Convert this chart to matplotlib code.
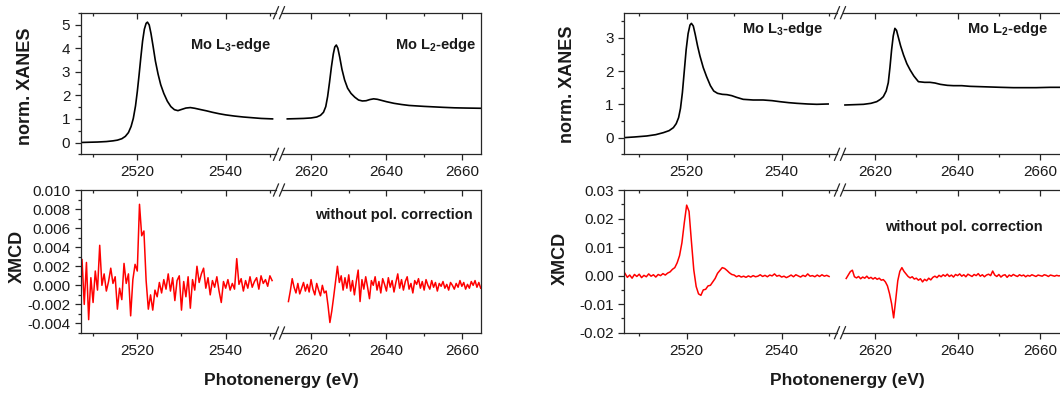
import numpy as np
import matplotlib
matplotlib.use('Agg')
import matplotlib.pyplot as plt
from matplotlib.ticker import MultipleLocator, FormatStrFormatter, NullFormatter
from matplotlib.lines import Line2D

plt.rcParams['font.family'] = ['Liberation Sans', 'DejaVu Sans']
plt.rcParams['mathtext.fontset'] = 'custom'
plt.rcParams['mathtext.rm'] = 'Liberation Sans:bold'
plt.rcParams['mathtext.bf'] = 'Liberation Sans:bold'
plt.rcParams['axes.unicode_minus'] = False

# ---------------- data ----------------
# left sample: XANES, L3 and L2 edge
a_l3_E = [2507.2, 2509.0, 2511.0, 2513.0, 2514.5, 2515.5, 2516.5, 2517.3, 2518.0, 2518.6,
          2519.1, 2519.6, 2520.0, 2520.4, 2520.8, 2521.2, 2521.6, 2522.0, 2522.3, 2522.7,
          2523.1, 2523.6, 2524.1, 2524.7, 2525.3, 2526.0, 2526.8, 2527.6, 2528.4, 2529.2,
          2530.0, 2531.0, 2532.0, 2533.0, 2534.2, 2535.7, 2537.0, 2538.5, 2540.0, 2542.0,
          2544.0, 2546.0, 2548.0, 2550.6]
a_l3_xanes = [0.00, 0.01, 0.02, 0.04, 0.07, 0.10, 0.16, 0.26, 0.42, 0.68,
              1.02, 1.55, 2.15, 2.85, 3.60, 4.30, 4.80, 5.05, 5.10, 4.98,
              4.62, 4.05, 3.45, 2.90, 2.45, 2.08, 1.75, 1.52, 1.39, 1.35,
              1.40, 1.46, 1.48, 1.45, 1.40, 1.34, 1.28, 1.22, 1.17, 1.12,
              1.08, 1.05, 1.02, 1.00]
a_l2_E = [2613.7, 2616.0, 2618.0, 2620.0, 2621.5, 2622.5, 2623.3, 2623.9, 2624.4, 2624.9,
          2625.4, 2625.9, 2626.3, 2626.7, 2627.1, 2627.6, 2628.2, 2628.9, 2629.7, 2630.6,
          2631.6, 2632.6, 2633.6, 2634.6, 2635.6, 2636.6, 2637.6, 2638.8, 2640.0, 2642.0,
          2644.0, 2646.0, 2648.0, 2650.0, 2652.5, 2655.0, 2658.0, 2661.0, 2665.0]
a_l2_xanes = [1.00, 1.01, 1.02, 1.04, 1.08, 1.15, 1.28, 1.52, 1.95, 2.55,
              3.20, 3.75, 4.05, 4.13, 4.00, 3.62, 3.10, 2.65, 2.30, 2.08,
              1.92, 1.80, 1.76, 1.77, 1.82, 1.85, 1.83, 1.78, 1.73, 1.66,
              1.61, 1.57, 1.55, 1.53, 1.51, 1.49, 1.47, 1.46, 1.45]

# left sample: XMCD in units of 1e-3, 0.5 eV steps
a_l3_xmcd_start = 2507.5
a_l3_xmcd = [2.7, -2.0, 2.4, -3.6, 0.8, -1.8, 1.5, -0.5, 4.2, 0.0,
             1.2, -0.6, 0.4, 1.8, 0.2, 0.9, -2.5, -0.3, -1.5, 2.3,
             0.2, 1.2, -3.2, 0.6, 2.2, 1.5, 8.5, 5.2, 5.7, 0.5,
             -2.5, -1.0, -2.6, -0.5, -1.2, 0.3, -0.8, 0.6, -0.4, 1.2,
             -0.6, 0.8, -1.6, 0.5, 1.0, -2.6, 0.4, -1.2, 0.9, -2.4,
             0.6, -0.5, 2.0, 0.3, 1.2, 1.8, -0.3, 0.8, -1.0, 0.5,
             -0.2, 0.9, -0.6, -1.8, 0.4, -0.3, 0.6, -0.5, 0.2, -0.4,
             2.8, 0.1, 0.7, -0.6, 0.5, -0.3, 0.9, -0.2, 0.4, 0.8,
             -0.4, 1.0, 0.2, 0.6, -0.1, 1.0, 0.5]
a_l2_xmcd_start = 2614.0
a_l2_xmcd = [-1.7, -0.6, 0.7, -0.2, -0.8, 0.2, -0.9, -0.3, 0.3, -0.6,
             0.1, -0.7, 0.6, -0.4, -1.0, 0.2, -0.5, -1.1, 0.0, -0.8,
             -0.6, -2.1, -3.9, -2.7, -1.2, 0.4, 2.0, 0.3, 1.0, -0.5,
             0.8, -0.3, 1.1, -0.6, 0.5, -1.0, 0.4, 1.6, -1.7, 0.6,
             -0.4, 0.9, -0.2, -1.4, 0.5, 0.0, 0.9, -0.5, 0.4, -0.8,
             0.7, 0.1, -0.6, 0.8, -0.2, 0.5, -0.7, 0.3, 1.2, -0.3,
             0.6, -0.5, 0.4, 0.9, -0.4, 0.2, -0.8, 0.5, 0.1, 0.7,
             -0.3, 0.4, -0.5, 0.6, 0.0, -0.4, 0.5, -0.2, 0.3, -0.6,
             0.2, -0.1, 0.4, -0.3, 0.1, -0.5, 0.3, 0.0, -0.4, 0.2,
             -0.2, 0.5, -0.1, 0.3, -0.4, 0.1, -0.3, 0.4, 0.0, 0.5,
             -0.2, 0.3, -0.3]

# right sample: XANES
b_l3_E = [2506.8, 2509.0, 2511.6, 2513.5, 2515.1, 2516.3, 2517.2, 2517.8, 2518.3, 2518.7,
          2519.1, 2519.5, 2519.9, 2520.3, 2520.7, 2521.0, 2521.4, 2521.8, 2522.3, 2522.8,
          2523.5, 2524.2, 2525.0, 2525.7, 2526.5, 2527.5, 2528.5, 2529.5, 2530.5, 2531.9,
          2534.0, 2536.1, 2538.0, 2539.6, 2541.5, 2543.2, 2545.5, 2547.4, 2549.8]
b_l3_xanes = [0.00, 0.02, 0.05, 0.09, 0.15, 0.21, 0.30, 0.42, 0.60, 0.88,
              1.35, 2.00, 2.65, 3.12, 3.38, 3.43, 3.35, 3.10, 2.75, 2.45,
              2.10, 1.83, 1.56, 1.40, 1.33, 1.30, 1.29, 1.26, 1.21, 1.15,
              1.13, 1.13, 1.11, 1.08, 1.05, 1.03, 1.01, 1.00, 1.01]
b_l2_E = [2612.7, 2615.0, 2617.2, 2619.0, 2620.4, 2621.3, 2622.0, 2622.7, 2623.2, 2623.6,
          2624.0, 2624.4, 2624.8, 2625.2, 2625.6, 2626.2, 2626.9, 2627.7, 2628.5, 2629.4,
          2630.5, 2632.0, 2633.3, 2634.5, 2635.8, 2637.5, 2639.0, 2641.0, 2643.0, 2645.5,
          2648.0, 2650.5, 2653.5, 2656.0, 2659.0, 2662.4, 2665.1]
b_l2_xanes = [0.98, 0.99, 1.00, 1.03, 1.08, 1.15, 1.23, 1.40, 1.65, 2.10,
              2.63, 3.05, 3.28, 3.22, 3.03, 2.75, 2.48, 2.22, 2.03, 1.85,
              1.68, 1.66, 1.66, 1.64, 1.60, 1.57, 1.56, 1.56, 1.54, 1.53,
              1.52, 1.51, 1.50, 1.50, 1.50, 1.51, 1.51]

# right sample: XMCD in units of 1e-3, 0.5 eV steps
b_l3_xmcd_start = 2507.0
b_l3_xmcd = [0.8, -0.6, 0.2, -0.9, 0.4, -0.3, 0.5, -0.7, 0.1, -0.4,
             0.6, -0.2, 0.3, -0.5, 0.4, 0.0, 0.7, 0.2, 0.9, 1.3,
             2.2, 2.8, 4.5, 7.0, 11.5, 18.5, 24.7, 22.5, 12.0, 2.0,
             -3.8, -6.4, -6.9, -5.0, -4.8, -3.6, -3.4, -2.2, -1.0, 0.8,
             1.8, 2.8, 2.5, 1.8, 1.0, 0.4, 0.2, -0.4, 0.0, -0.5,
             -0.2, -0.6, -0.1, -0.5, 0.0, -0.4, -0.2, 0.3, -0.3, 0.1,
             -0.4, 0.2, -0.1, 0.6, -0.2, 0.1, -0.5, -0.2, -0.7, -0.3,
             0.2, -0.4, 0.3, -0.1, -0.5, 0.1, -0.3, 0.6, -0.2, 0.0,
             -0.4, 0.2, -0.3, 0.3, -0.2, 0.1, -0.3]
b_l2_xmcd_start = 2613.0
b_l2_xmcd = [-1.0, 0.2, 1.4, 1.9, -0.4, -0.8, -0.3, -1.1, -0.5, -0.9,
             -0.2, -1.0, -0.6, -1.2, -0.7, -1.3, -0.9, -1.6, -1.4, -2.2,
             -3.6, -6.3, -9.8, -14.8, -8.5, -1.8, 1.5, 2.8, 1.5, 0.6,
             -0.3, -0.8, -0.4, -1.2, -0.9, -1.6, -1.1, -2.2, -1.3, -1.8,
             -0.9, -1.5, -0.6, -0.2, -0.7, 0.1, -0.4, 0.3, -0.2, 0.5,
             -0.3, 0.2, -0.5, 0.4, 0.0, 0.6, -0.2, 0.3, -0.4, 0.5,
             0.1, -0.3, 0.4, 0.0, 0.7, -0.2, 0.3, -0.4, 0.2, 0.5,
             0.0, 1.6, 0.2, -0.3, 0.4, -0.5, 0.1, 0.3, -0.6, 0.2,
             -0.2, 0.4, 0.0, -0.3, 0.3, -0.1, 0.2, -0.4, 0.1, -0.2,
             0.3, 0.0, -0.3, 0.2, 0.0, -0.2, 0.3, 0.1, -0.3, 0.2,
             0.0, -0.2, 0.1, -0.1, 0.0]

XMCD_STEP = 0.5

W, H = 1060, 394
SPINE = '#262626'


def grid(start, vals):
    return start + XMCD_STEP * np.arange(len(vals))


def make_pair(fig, x0, xb, x1, ytop, ybot, limL, limR):
    # two axes side by side forming one broken x axis (pixel geometry)
    b = (H - ybot) / H
    h = (ybot - ytop) / H
    axL = fig.add_axes([x0 / W, b, (xb - x0) / W, h])
    axR = fig.add_axes([xb / W, b, (x1 - xb) / W, h], sharey=axL)
    axL.set_xlim(limL)
    axR.set_xlim(limR)
    axL.spines['right'].set_visible(False)
    axR.spines['left'].set_visible(False)
    gap = 3.0
    pxL = (xb - x0) / (limL[1] - limL[0])
    pxR = (x1 - xb) / (limR[1] - limR[0])
    for s in ('top', 'bottom'):
        axL.spines[s].set_bounds(limL[0], limL[1] - gap / pxL)
        axR.spines[s].set_bounds(limR[0] + gap / pxR, limR[1])
    for ax in (axL, axR):
        for s in ax.spines.values():
            s.set_color(SPINE)
            s.set_linewidth(0.9)
        ax.xaxis.set_major_locator(MultipleLocator(20))
        ax.xaxis.set_minor_locator(MultipleLocator(10))
        ax.tick_params(axis='x', which='both', direction='out', top=False,
                       labelsize=11, pad=4, colors=SPINE, labelcolor='#1a1a1a')
        ax.tick_params(axis='x', which='major', length=4, width=0.9)
        ax.tick_params(axis='x', which='minor', length=2.5, width=0.9)
        sec = ax.secondary_xaxis('top')
        sec.xaxis.set_major_locator(MultipleLocator(20))
        sec.xaxis.set_minor_locator(MultipleLocator(10))
        sec.xaxis.set_major_formatter(NullFormatter())
        sec.tick_params(axis='x', which='both', direction='in', colors=SPINE)
        sec.tick_params(axis='x', which='major', length=4, width=0.9)
        sec.tick_params(axis='x', which='minor', length=2.5, width=0.9)
        for s in sec.spines.values():
            s.set_visible(False)
    axL.tick_params(axis='y', which='both', direction='out', right=False,
                    labelsize=11, pad=3, colors=SPINE, labelcolor='#1a1a1a')
    axL.tick_params(axis='y', which='major', length=4.5, width=0.9)
    axL.tick_params(axis='y', which='minor', length=2.5, width=0.9)
    axR.tick_params(axis='y', which='both', left=False, right=False,
                    labelleft=False)
    # break marks "//"
    for yy in (ytop, ybot):
        for cx in (xb - gap, xb + gap):
            fig.add_artist(Line2D([(cx - 2.5) / W, (cx + 2.5) / W],
                                  [(H - yy - 6) / H, (H - yy + 6) / H],
                                  transform=fig.transFigure, color=SPINE, lw=0.9))
    return axL, axR


def style_y(ax, lim, major, minor, fmt):
    ax.set_ylim(lim)
    ax.yaxis.set_major_locator(MultipleLocator(major))
    ax.yaxis.set_minor_locator(MultipleLocator(minor))
    ax.yaxis.set_major_formatter(FormatStrFormatter(fmt))


def main():
    fig = plt.figure(figsize=(W / 100, H / 100), dpi=100)

    lab = dict(fontsize=13, fontweight='bold', color='#1a1a1a')
    ann = dict(fontsize=10.5, fontweight='bold', color='#1a1a1a', va='center')

    # ---------- left panel ----------
    tL, tR = make_pair(fig, 80.7, 279, 480.7, 12.7, 154.3, (2507.2, 2552.06), (2611.5, 2665.0))
    tL.plot(a_l3_E, a_l3_xanes, color='black', lw=1.2)
    tR.plot(a_l2_E, a_l2_xanes, color='black', lw=1.2)
    style_y(tL, (-0.5, 5.5), 1, 0.5, '%d')
    tL.set_ylabel('norm. XANES', **lab)
    tL.yaxis.set_label_coords(34 / W, 1 - 86 / H, transform=fig.transFigure)

    bL, bR = make_pair(fig, 80.7, 279, 480.7, 190, 333, (2507.2, 2552.06), (2611.5, 2665.0))
    bL.plot(grid(a_l3_xmcd_start, a_l3_xmcd), np.array(a_l3_xmcd) * 1e-3, color='red', lw=1.1)
    bR.plot(grid(a_l2_xmcd_start, a_l2_xmcd), np.array(a_l2_xmcd) * 1e-3, color='red', lw=1.1)
    style_y(bL, (-0.005, 0.010), 0.002, 0.001, '%.3f')
    bL.set_ylabel('XMCD', **lab)
    bL.yaxis.set_label_coords(25.5 / W, 1 - 256 / H, transform=fig.transFigure)

    fig.text(190 / W, 1 - 45 / H, 'Mo L$_3$-edge', ha='left', **ann)
    fig.text(395 / W, 1 - 45 / H, 'Mo L$_2$-edge', ha='left', **ann)
    fig.text(473 / W, 1 - 215 / H, 'without pol. correction', ha='right', **ann)
    fig.text(281 / W, 1 - 381 / H, 'Photonenergy (eV)', ha='center', va='center',
             fontsize=12.5, fontweight='bold', color='#1a1a1a')

    # ---------- right panel ----------
    tL, tR = make_pair(fig, 624, 840, 1062, 12.7, 154.3, (2506.8, 2552.3), (2611.5, 2665.3))
    tL.plot(b_l3_E, b_l3_xanes, color='black', lw=1.2)
    tR.plot(b_l2_E, b_l2_xanes, color='black', lw=1.2)
    style_y(tL, (-0.5, 3.75), 1, 0.5, '%d')
    tL.set_ylabel('norm. XANES', **lab)
    tL.yaxis.set_label_coords(575.5 / W, 1 - 84 / H, transform=fig.transFigure)

    bL, bR = make_pair(fig, 624, 840, 1062, 190, 332.7, (2506.8, 2552.3), (2611.5, 2665.3))
    bL.plot(grid(b_l3_xmcd_start, b_l3_xmcd), np.array(b_l3_xmcd) * 1e-3, color='red', lw=1.1)
    bR.plot(grid(b_l2_xmcd_start, b_l2_xmcd), np.array(b_l2_xmcd) * 1e-3, color='red', lw=1.1)
    style_y(bL, (-0.02, 0.03), 0.01, 0.005, '%.2f')
    bL.set_ylabel('XMCD', **lab)
    bL.yaxis.set_label_coords(568.5 / W, 1 - 258 / H, transform=fig.transFigure)

    fig.text(742 / W, 1 - 29 / H, 'Mo L$_3$-edge', ha='left', **ann)
    fig.text(967 / W, 1 - 29 / H, 'Mo L$_2$-edge', ha='left', **ann)
    fig.text(1043 / W, 1 - 227 / H, 'without pol. correction', ha='right', **ann)
    fig.text(847 / W, 1 - 381 / H, 'Photonenergy (eV)', ha='center', va='center',
             fontsize=12.5, fontweight='bold', color='#1a1a1a')

    fig.savefig('out.png', dpi=100)


if __name__ == '__main__':
    main()
